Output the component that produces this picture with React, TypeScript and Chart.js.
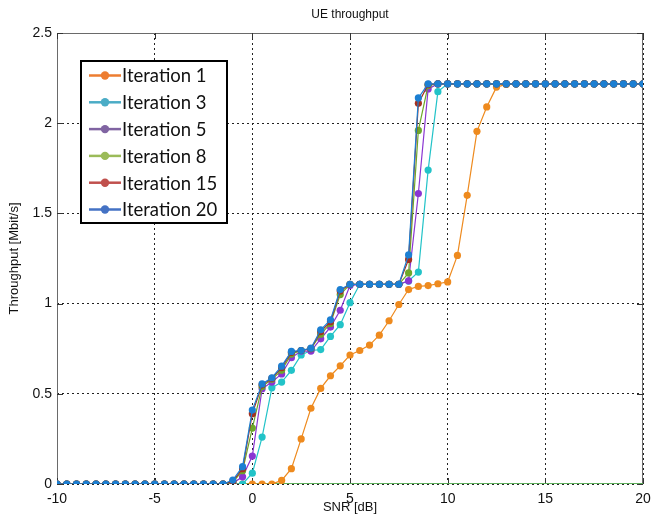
import React, { useEffect, useRef } from "react";
import { Chart, registerables } from "chart.js";

Chart.register(...registerables);

// SNR [dB] sample points
const snr = [
  -10, -9.5, -9, -8.5, -8, -7.5, -7, -6.5, -6, -5.5, -5, -4.5, -4, -3.5, -3, -2.5, -2, -1.5,
  -1, -0.5, 0, 0.5, 1, 1.5, 2, 2.5, 3, 3.5, 4, 4.5, 5, 5.5, 6, 6.5, 7, 7.5, 8, 8.5, 9, 9.5,
  10, 10.5, 11, 11.5, 12, 12.5, 13, 13.5, 14, 14.5, 15, 15.5, 16, 16.5, 17, 17.5, 18, 18.5, 19, 19.5, 20,
];

const iter1 = [
  0, 0, 0, 0, 0, 0, 0, 0, 0, 0, 0, 0, 0, 0, 0, 0, 0, 0,
  0, 0, 0, 0, 0, 0.02, 0.085, 0.25, 0.42, 0.53, 0.6, 0.655, 0.715, 0.74, 0.77, 0.825, 0.905, 0.995, 1.078, 1.095, 1.1, 1.11,
  1.12, 1.267, 1.6, 1.955, 2.09, 2.2, 2.215, 2.218, 2.218, 2.218, 2.218, 2.218, 2.218, 2.218, 2.218, 2.218, 2.218, 2.218, 2.218, 2.218, 2.218,
];
const iter3 = [
  0, 0, 0, 0, 0, 0, 0, 0, 0, 0, 0, 0, 0, 0, 0, 0, 0, 0,
  0, 0, 0.06, 0.26, 0.533, 0.565, 0.63, 0.715, 0.74, 0.745, 0.818, 0.883, 1.005, 1.107, 1.107, 1.107, 1.107, 1.107, 1.125, 1.175, 1.74, 2.175,
  2.218, 2.218, 2.218, 2.218, 2.218, 2.218, 2.218, 2.218, 2.218, 2.218, 2.218, 2.218, 2.218, 2.218, 2.218, 2.218, 2.218, 2.218, 2.218, 2.218, 2.218,
];
const iter5 = [
  0, 0, 0, 0, 0, 0, 0, 0, 0, 0, 0, 0, 0, 0, 0, 0, 0, 0,
  0.005, 0.04, 0.155, 0.528, 0.565, 0.61, 0.7, 0.737, 0.737, 0.805, 0.87, 0.963, 1.1, 1.107, 1.107, 1.107, 1.107, 1.107, 1.126, 1.61, 2.19, 2.218,
  2.218, 2.218, 2.218, 2.218, 2.218, 2.218, 2.218, 2.218, 2.218, 2.218, 2.218, 2.218, 2.218, 2.218, 2.218, 2.218, 2.218, 2.218, 2.218, 2.218, 2.218,
];
const iter8 = [
  0, 0, 0, 0, 0, 0, 0, 0, 0, 0, 0, 0, 0, 0, 0, 0, 0, 0,
  0.01, 0.074, 0.31, 0.54, 0.58, 0.63, 0.72, 0.74, 0.75, 0.83, 0.89, 1.05, 1.107, 1.107, 1.107, 1.107, 1.107, 1.107, 1.17, 1.96, 2.21, 2.218,
  2.218, 2.218, 2.218, 2.218, 2.218, 2.218, 2.218, 2.218, 2.218, 2.218, 2.218, 2.218, 2.218, 2.218, 2.218, 2.218, 2.218, 2.218, 2.218, 2.218, 2.218,
];
const iter15 = [
  0, 0, 0, 0, 0, 0, 0, 0, 0, 0, 0, 0, 0, 0, 0, 0, 0, 0,
  0.015, 0.085, 0.39, 0.55, 0.585, 0.645, 0.73, 0.74, 0.75, 0.845, 0.9, 1.07, 1.107, 1.107, 1.107, 1.107, 1.107, 1.107, 1.245, 2.11, 2.215, 2.218,
  2.218, 2.218, 2.218, 2.218, 2.218, 2.218, 2.218, 2.218, 2.218, 2.218, 2.218, 2.218, 2.218, 2.218, 2.218, 2.218, 2.218, 2.218, 2.218, 2.218, 2.218,
];
const iter20 = [
  0, 0, 0, 0, 0, 0, 0, 0, 0, 0, 0, 0, 0, 0, 0, 0, 0, 0,
  0.022, 0.096, 0.41, 0.555, 0.589, 0.653, 0.735, 0.74, 0.753, 0.855, 0.91, 1.078, 1.107, 1.107, 1.107, 1.107, 1.107, 1.107, 1.27, 2.14, 2.218, 2.218,
  2.218, 2.218, 2.218, 2.218, 2.218, 2.218, 2.218, 2.218, 2.218, 2.218, 2.218, 2.218, 2.218, 2.218, 2.218, 2.218, 2.218, 2.218, 2.218, 2.218, 2.218,
];
// green zero reference line
const baselineX = [-10, 20];
const baselineY = [0, 0];

const seriesNames = ["Iteration 1", "Iteration 3", "Iteration 5", "Iteration 8", "Iteration 15", "Iteration 20"];
const seriesValues = [iter1, iter3, iter5, iter8, iter15, iter20];
const seriesColors = ["#EE8A1E", "#22C3C8", "#8A35D2", "#6EA82A", "#A5301F", "#1C7FD2"];
const legendColors = ["#ED7D31", "#4BACC6", "#8064A2", "#9BBB59", "#C0504D", "#4472C4"];

const xTickLabels = ["-10", "-5", "0", "5", "10", "15", "20"];
const yTickLabels = ["0", "0.5", "1", "1.5", "2", "2.5"];

const TITLE = "UE throughput";
const X_TITLE = "SNR [dB]";
const Y_TITLE = "Throughput [Mbit/s]";

const framePlugin = {
  id: "frameAndTicks",
  beforeDatasetsDraw(chart: any) {
    const { ctx, chartArea: a, scales } = chart;
    ctx.save();
    ctx.strokeStyle = "#6a6a6a";
    ctx.lineWidth = 1;
    ctx.setLineDash([]);
    ctx.strokeRect(a.left + 0.5, a.top + 0.5, a.right - a.left - 1, a.bottom - a.top - 1);
    ctx.strokeStyle = "#333";
    const t = 6;
    ctx.beginPath();
    scales.x.ticks.forEach((tk: any) => {
      const px = Math.round(scales.x.getPixelForValue(tk.value)) + 0.5;
      ctx.moveTo(px, a.bottom);
      ctx.lineTo(px, a.bottom - t);
      ctx.moveTo(px, a.top);
      ctx.lineTo(px, a.top + t);
    });
    scales.y.ticks.forEach((tk: any) => {
      const py = Math.round(scales.y.getPixelForValue(tk.value)) + 0.5;
      ctx.moveTo(a.left, py);
      ctx.lineTo(a.left + t, py);
      ctx.moveTo(a.right, py);
      ctx.lineTo(a.right - t, py);
    });
    ctx.stroke();
    ctx.restore();
  },
  afterDraw(chart: any) {
    const { ctx, chartArea: a } = chart;
    ctx.save();
    // title
    ctx.fillStyle = "#111";
    ctx.font = "12px 'Liberation Sans', Arial, sans-serif";
    ctx.textAlign = "center";
    ctx.textBaseline = "middle";
    ctx.fillText(TITLE, (a.left + a.right) / 2, 15);
    // legend box
    const x0 = a.left + 24;
    const y0 = a.top + 28;
    const w = 146;
    const h = 162;
    ctx.fillStyle = "#fff";
    ctx.fillRect(x0, y0, w, h);
    ctx.strokeStyle = "#000";
    ctx.lineWidth = 2;
    ctx.strokeRect(x0, y0, w, h);
    ctx.font = "18.5px Lato, 'Open Sans', sans-serif";
    ctx.textAlign = "left";
    seriesNames.forEach((name, i) => {
      const y = y0 + 14.5 + i * 26.8;
      ctx.strokeStyle = legendColors[i];
      ctx.lineWidth = 2.5;
      ctx.beginPath();
      ctx.moveTo(x0 + 8, y);
      ctx.lineTo(x0 + 40, y);
      ctx.stroke();
      ctx.fillStyle = legendColors[i];
      ctx.beginPath();
      ctx.arc(x0 + 24, y, 4.2, 0, Math.PI * 2);
      ctx.fill();
      ctx.fillStyle = "#111";
      ctx.fillText(name, x0 + 41, y + 1);
    });
    ctx.restore();
  },
};

export default function App() {
  const ref = useRef<HTMLCanvasElement>(null);
  useEffect(() => {
    if (!ref.current) return;
    const datasets: any[] = seriesNames.map((name, i) => ({
      label: name,
      data: snr.map((x, k) => ({ x, y: seriesValues[i][k] })),
      borderColor: seriesColors[i],
      backgroundColor: seriesColors[i],
      pointBackgroundColor: seriesColors[i],
      pointBorderWidth: 0,
      pointRadius: 3.6,
      borderWidth: 1.2,
      tension: 0,
      order: seriesNames.length - i,
    }));
    datasets.push({
      label: "baseline",
      data: baselineX.map((x, k) => ({ x, y: baselineY[k] })),
      borderColor: "#5EC85A",
      borderWidth: 1.6,
      pointRadius: 0,
      order: 20,
    });
    const tickFont = { family: "'Liberation Sans', Arial, sans-serif", size: 14 };
    const chart = new Chart(ref.current, {
      type: "line",
      data: { datasets },
      plugins: [framePlugin],
      options: {
        animation: false,
        responsive: false,
        maintainAspectRatio: false,
        layout: { padding: { top: 33, right: 10, bottom: 5, left: 3 } },
        plugins: { legend: { display: false }, tooltip: { enabled: false }, title: { display: false } },
        scales: {
          x: {
            type: "linear",
            min: -10,
            max: 20,
            afterFit: (s: any) => {
              s.height = 35;
              s.paddingLeft = 0;
              s.paddingRight = 0;
            },
            ticks: {
              stepSize: 5,
              padding: 7,
              color: "#111",
              font: tickFont,
              maxRotation: 0,
              callback: (v: any) => xTickLabels[Math.round((Number(v) + 10) / 5)] ?? "",
            },
            grid: { color: "#222", lineWidth: 1, drawTicks: false },
            border: { display: false, dash: [2, 3] },
            title: {
              display: true,
              text: X_TITLE,
              color: "#111",
              font: { family: "'Liberation Sans', Arial, sans-serif", size: 13 },
              padding: { top: 0, bottom: 4 },
            },
          },
          y: {
            type: "linear",
            min: 0,
            max: 2.5,
            afterFit: (s: any) => {
              s.width = 54;
              s.paddingTop = 0;
              s.paddingBottom = 0;
            },
            ticks: {
              stepSize: 0.5,
              padding: 5,
              color: "#111",
              font: tickFont,
              callback: (v: any) => yTickLabels[Math.round(Number(v) / 0.5)] ?? "",
            },
            grid: { color: "#222", lineWidth: 1, drawTicks: false },
            border: { display: false, dash: [2, 3] },
            title: {
              display: true,
              text: Y_TITLE,
              color: "#111",
              font: { family: "'Liberation Sans', Arial, sans-serif", size: 13 },
              padding: { top: 4, bottom: 0 },
            },
          },
        },
      } as any,
    });
    return () => chart.destroy();
  }, []);
  return (
    <div style={{ position: "absolute", left: 0, top: 0, width: 653, height: 524, background: "#fff" }}>
      <canvas ref={ref} width={653} height={524} style={{ display: "block" }} />
    </div>
  );
}
